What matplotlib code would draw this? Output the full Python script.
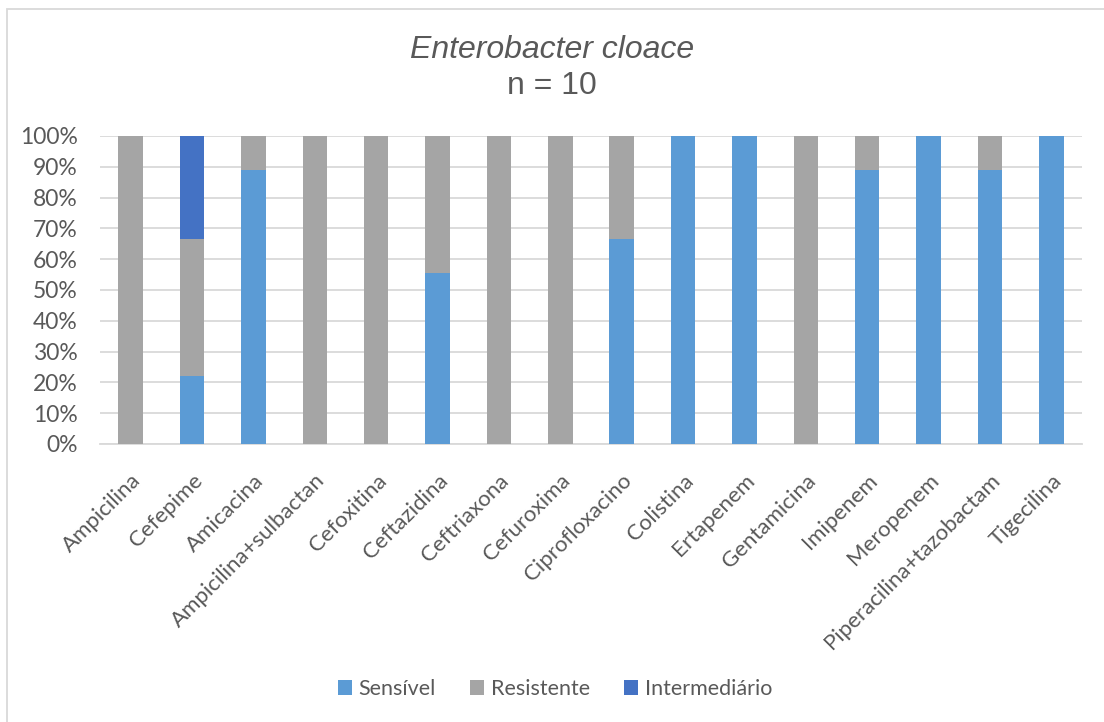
import matplotlib.pyplot as plt
import numpy as np
from matplotlib.patches import Rectangle

# Antibiogram for Enterobacter cloace (percent of isolates per drug)
antibiotics = ['Ampicilina', 'Cefepime', 'Amicacina', 'Ampicilina+sulbactan',
               'Cefoxitina', 'Ceftazidina', 'Ceftriaxona', 'Cefuroxima',
               'Ciprofloxacino', 'Colistina', 'Ertapenem', 'Gentamicina',
               'Imipenem', 'Meropenem', 'Piperacilina+tazobactam', 'Tigecilina']
sensivel = [0, 22.2, 88.9, 0, 0, 55.6, 0, 0, 66.7, 100, 100, 0, 88.9, 100, 88.9, 100]
resistente = [100, 44.4, 11.1, 100, 100, 44.4, 100, 100, 33.3, 0, 0, 100, 11.1, 0, 11.1, 0]
intermediario = [0, 33.3, 0, 0, 0, 0, 0, 0, 0, 0, 0, 0, 0, 0, 0, 0]

c_sens = '#5b9bd5'
c_res = '#a5a5a5'
c_int = '#4472c4'
txt = '#595959'

plt.rcParams['font.family'] = ['Lato', 'DejaVu Sans']

fig = plt.figure(figsize=(11.04, 7.22), dpi=100)
ax = fig.add_axes([100 / 1104, 1 - 444 / 722, 982 / 1104, 308 / 722])

x = np.arange(len(antibiotics))
s = np.array(sensivel)
r = np.array(resistente)
i = np.array(intermediario)
w = 0.4
ax.bar(x, s, w, color=c_sens, label='Sensível', zorder=3)
ax.bar(x, r, w, bottom=s, color=c_res, label='Resistente', zorder=3)
ax.bar(x, i, w, bottom=s + r, color=c_int, label='Intermediário', zorder=3)

ax.set_xlim(-0.5, len(antibiotics) - 0.5)
ax.set_ylim(0, 100)
ax.set_yticks(np.arange(0, 101, 10))
ax.set_yticklabels([f'{v}%' for v in range(0, 101, 10)])
ax.grid(axis='y', color='#d9d9d9', linewidth=1.3, zorder=0)
ax.set_axisbelow(True)
for sp in ['top', 'right', 'left']:
    ax.spines[sp].set_visible(False)
ax.spines['bottom'].set_color('#d9d9d9')
ax.spines['bottom'].set_linewidth(1.3)
ax.tick_params(axis='both', length=0, colors=txt)
ax.tick_params(axis='y', pad=16, labelsize=16.5)
ax.set_xticks(x)
ax.set_xticklabels(antibiotics, rotation=45, ha='right', rotation_mode='anchor',
                   fontsize=16)
ax.tick_params(axis='x', pad=19)

# title
fig.text(0.5, 1 - 50 / 722, 'Enterobacter cloace', ha='center', va='center',
         fontsize=23, style='italic', color=txt, family='Liberation Sans')
fig.text(0.5, 1 - 86 / 722, 'n = 10', ha='center', va='center',
         fontsize=23, color=txt, family='Liberation Sans')

fig.legend(loc='center', bbox_to_anchor=(555 / 1104, 1 - 689 / 722), ncol=3,
           frameon=False, fontsize=15.5, labelcolor=txt, handlelength=0.65,
           handleheight=0.65, handletextpad=0.3, columnspacing=1.6)

# chart border
fig.patches.append(Rectangle((7 / 1104, -0.05), 1.1, 1 - 9 / 722 + 0.05,
                             transform=fig.transFigure, fill=False,
                             edgecolor='#d9d9d9', linewidth=1.3))

fig.savefig('out.png', dpi=100)
